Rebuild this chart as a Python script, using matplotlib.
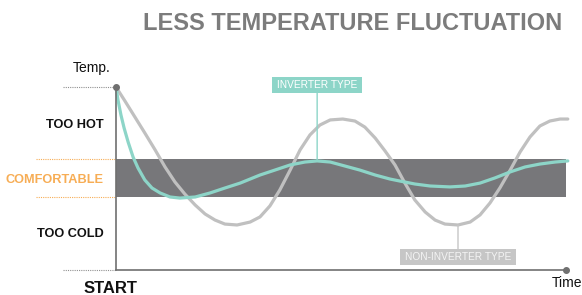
import numpy as np
import matplotlib
matplotlib.use("Agg")
import matplotlib.pyplot as plt

# ---- data (time 0..100, temperature 0..100) ----
non_inverter_t = [0, 2, 4.2, 6.4, 8.7, 10.9, 13.1, 15.3, 17.6, 19.8, 22.0, 24.2, 26.9, 29.8,
                  32.0, 34.2, 36.4, 38.7, 40.9, 43.1, 45.3, 47.6, 50.4, 53.1, 55.3, 57.6,
                  59.8, 62.0, 64.2, 66.4, 68.7, 70.9, 73.1, 76.0, 78.7, 80.9, 83.1, 85.3,
                  87.6, 89.8, 92.0, 94.2, 96.4, 98.7, 100.4]
non_inverter_v = [100, 92.3, 83.6, 74.9, 65.6, 56.3, 48.1, 41.5, 35.5, 30.6, 27.3, 25.1, 24.6,
                  26.2, 29.0, 35.0, 43.7, 54.6, 65.6, 73.8, 79.2, 82.0, 82.5, 81.4, 78.1,
                  72.1, 65.0, 57.4, 47.5, 38.3, 31.7, 27.3, 25.1, 24.6, 26.2, 30.1, 36.6,
                  44.8, 54.6, 64.5, 72.7, 78.7, 81.4, 82.5, 82.5]

inverter_t = [0, 0.44, 1.1, 1.8, 2.7, 3.8, 4.9, 6.4, 8.0, 9.8, 12.0, 14.2, 17.6, 20.9, 24.2,
              27.6, 29.8, 32.0, 35.3, 38.7, 42.0, 44.7, 47.6, 50.9, 54.2, 57.6, 60.9, 63.1,
              66.4, 69.8, 74.2, 77.6, 80.9, 84.2, 87.6, 90.9, 94.2, 97.6, 100.4]
inverter_v = [100, 92.9, 84.7, 77.6, 69.9, 61.7, 55.7, 49.2, 44.8, 42.1, 39.9, 39.3, 39.9,
              42.1, 44.8, 47.5, 49.7, 51.9, 54.6, 57.4, 59.0, 59.6, 59.0, 56.8, 54.6, 51.9,
              49.7, 48.6, 47.0, 45.9, 45.4, 45.9, 47.5, 50.3, 53.6, 56.3, 57.9, 59.0, 59.6]

comfort_low, comfort_high = 40, 60.6
zone_labels = ["TOO HOT", "COMFORTABLE", "TOO COLD"]
title = "LESS TEMPERATURE FLUCTUATION"

# ---- styling ----
W, H = 582, 295
TEAL = "#8dd5c8"
GRAY = "#c0c0c0"
BAND = "#77777a"
AXIS = "#707070"
ORANGE = "#f7ad55"
SANS = ["Liberation Sans", "DejaVu Sans"]

fig = plt.figure(figsize=(W / 100, H / 100), dpi=100)
def px(x, y):
    return x / W, 1 - y / H

x0, x1, ytop, ybot = 116, 566, 87, 270
ax = fig.add_axes([x0 / W, 1 - ybot / H, (x1 - x0) / W, (ybot - ytop) / H])
ax.set_xlim(0, 100)
ax.set_ylim(0, 100)
ax.axis("off")

# comfort band
ax.axhspan(comfort_low, comfort_high, xmin=0, xmax=1, color=BAND, lw=0, zorder=1)

# curves
ax.plot(non_inverter_t, non_inverter_v, color=GRAY, lw=2.3, solid_capstyle="round",
        solid_joinstyle="round", zorder=3, clip_on=False)
ax.plot(inverter_t, inverter_v, color=TEAL, lw=2.3, solid_capstyle="round",
        solid_joinstyle="round", zorder=4, clip_on=False)

# axes lines
ax.plot([0, 0], [0, 100], color=AXIS, lw=1.2, zorder=5, clip_on=False)
ax.plot([0, 100], [0, 0], color=AXIS, lw=1.2, zorder=5, clip_on=False)
ax.plot([0], [100], "o", color=AXIS, ms=4, zorder=6, clip_on=False)
ax.plot([100], [0], "o", color=AXIS, ms=4, zorder=6, clip_on=False)

# dotted guides on the left
for yv in (0, 100):
    ax.plot([-11.8, 0], [yv, yv], color="#909090", lw=0.8, ls=(0, (1, 1)), clip_on=False)
for yv in (comfort_low, comfort_high):
    ax.plot([-17.8, 0], [yv, yv], color=ORANGE, lw=0.8, ls=(0, (1, 1)), clip_on=False)

# callouts
inv_t = np.array(inverter_t); inv_v = np.array(inverter_v)
mask = inv_t > 20
i_pk = np.argmax(np.where(mask, inv_v, -1))
ax.annotate("INVERTER TYPE", xy=(inv_t[i_pk], inv_v[i_pk]), xytext=(inv_t[i_pk], 101.0),
            ha="center", va="center", color="white", fontsize=7.3, family=SANS,
            bbox=dict(boxstyle="square,pad=0.5", fc=TEAL, ec="none", mutation_aspect=0.55),
            arrowprops=dict(arrowstyle="-", color=TEAL, lw=1.0, shrinkA=0, shrinkB=0),
            annotation_clip=False, zorder=7)

ni_t = np.array(non_inverter_t); ni_v = np.array(non_inverter_v)
mask2 = ni_t > 60
i_mn = np.argmin(np.where(mask2, ni_v, 999))
ax.annotate("NON-INVERTER TYPE", xy=(ni_t[i_mn], ni_v[i_mn]), xytext=(ni_t[i_mn], 7.0),
            ha="center", va="center", color="#f4f4f4", fontsize=7.3, family=SANS,
            bbox=dict(boxstyle="square,pad=0.5", fc="#c6c6c6", ec="none", mutation_aspect=0.55),
            arrowprops=dict(arrowstyle="-", color="#c6c6c6", lw=1.0, shrinkA=0, shrinkB=0),
            annotation_clip=False, zorder=7)

# texts
fig.text(*px(562, 30.5), title, ha="right", va="baseline", fontsize=17,
         fontweight="bold", color="#7c7c7c", family=SANS)
fig.text(*px(104, 128), zone_labels[0], ha="right", va="baseline", fontsize=9.2,
         fontweight="bold", color="#111111", family=SANS)
fig.text(*px(104, 183), zone_labels[1], ha="right", va="baseline", fontsize=9.2,
         fontweight="bold", color=ORANGE, family=SANS)
fig.text(*px(104, 237), zone_labels[2], ha="right", va="baseline", fontsize=9.2,
         fontweight="bold", color="#111111", family=SANS)
fig.text(*px(110, 293), "START", ha="center", va="baseline", fontsize=12,
         fontweight="bold", color="#111111", family=SANS)
fig.text(*px(92, 72), "Temp.", ha="center", va="baseline", fontsize=10,
         color="#111111", family=SANS)
fig.text(*px(552, 287), "Time", ha="left", va="baseline", fontsize=10,
         color="#111111", family=SANS)

fig.savefig("out.png", dpi=100)
